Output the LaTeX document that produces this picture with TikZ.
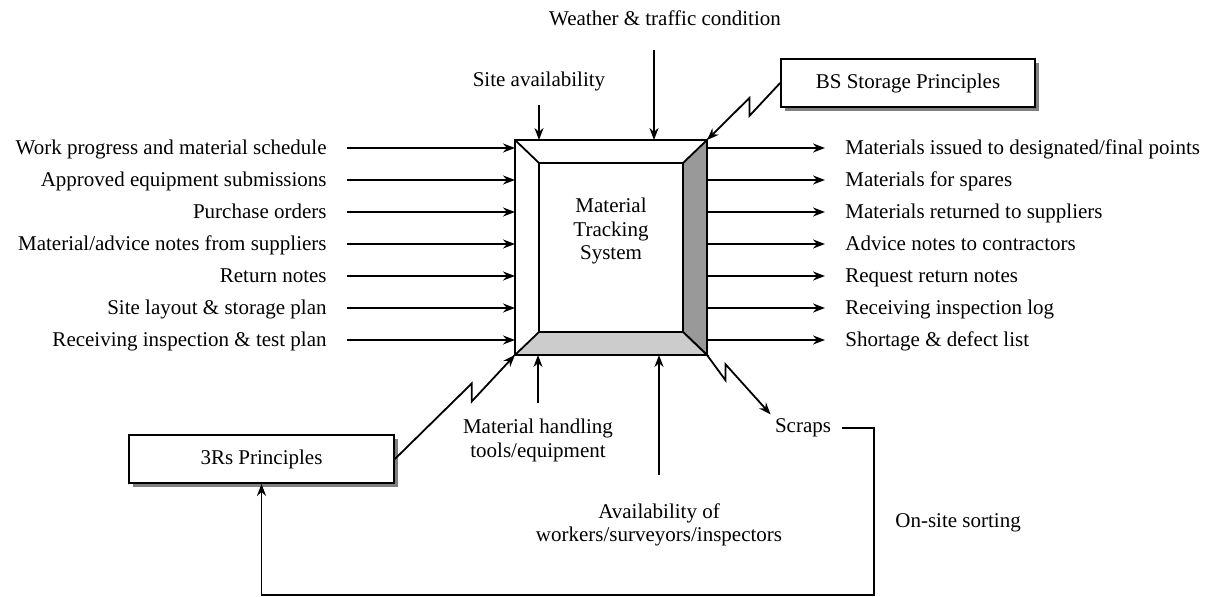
\documentclass[tikz,border=0pt]{standalone}
\usepackage{fontspec}
\setmainfont{Liberation Serif}
\usetikzlibrary{calc,shadows,arrows.meta,positioning}

\tikzset{
  lbl/.style={font=\fontsize{10.5}{11.8}\selectfont, inner sep=2pt},
  row/.style={lbl, text height=7pt, text depth=0pt, inner xsep=10pt},
  arr/.style={-{Stealth[length=6pt,width=4.5pt]}, line width=0.9pt},
  pbox/.style={lbl, draw, line width=0.9pt, fill=white, minimum height=24pt,
    drop shadow={shadow xshift=2pt, shadow yshift=-2pt, fill=black!50, opacity=1}},
  zig/.style 2 args={to path={-- ($(\tikztostart)!#1!(\tikztotarget)+(0,#2)$)
    -- ($(\tikztostart)!#1!(\tikztotarget)-(0,#2)$) -- (\tikztotarget)}}
}

\begin{document}
\begin{tikzpicture}[x=0.5pt,y=-0.5pt]
\useasboundingbox (0,0) rectangle (1219,597);

\node [draw, line width=0.9pt, outer sep=0pt, minimum width=96pt, minimum height=107.5pt] (mts) at (611,247.5) {};
\node [draw, line width=0.9pt, outer sep=0pt, minimum width=72pt, minimum height=84.5pt] (core) at (611,247.5) {};
\filldraw [line width=0.9pt, fill=black!40] (mts.north east) -- (mts.south east) -- (core.south east) -- (core.north east) -- cycle;
\filldraw [line width=0.9pt, fill=black!20] (mts.south west) -- (mts.south east) -- (core.south east) -- (core.south west) -- cycle;
\draw [line width=0.9pt] (mts.north west) -- (core.north west);
\node [lbl, align=center] (title) at (611,231) {Material\\Tracking\\System};

\def\inlist{1/{Work progress and material schedule},2/{Approved equipment submissions},3/{Purchase orders},4/{Material/advice notes from suppliers},5/{Return notes},6/{Site layout \& storage plan},7/{Receiving inspection \& test plan}}
\foreach \i / \txt in \inlist {
  \node [row, anchor=east] (in\i) at (347,{116+32*\i}) {\txt};
  \draw [arr] (in\i.east) -- (mts.west |- in\i.east);
}

\def\outlist{1/{Materials issued to designated/final points},2/{Materials for spares},3/{Materials returned to suppliers},4/{Advice notes to contractors},5/{Request return notes},6/{Receiving inspection log},7/{Shortage \& defect list}}
\foreach \i / \txt in \outlist {
  \node [row, anchor=west] (out\i) at (825,{116+32*\i}) {\txt};
  \draw [arr] (mts.east |- out\i.west) -- (out\i.west);
}

\node [lbl] (site) at (539,81) {Site availability};
\draw [arr, shorten <=5pt] (site.south) -- (site.south |- mts.north);
\node [lbl] (wtc) at (665,18) {Weather \& traffic condition};
\draw [arr, shorten <=10pt] ([xshift=-5.5pt]wtc.south) -- ([xshift=-5.5pt]wtc.south |- mts.north);

\node [pbox, minimum width=127pt] (bs) at (908,83) {BS Storage Principles};
\draw [arr] (bs.west) to[zig={0.42}{9}] (mts.north east);

\node [pbox, minimum width=132.5pt] (rrr) at (261.5,459) {3Rs Principles};
\draw [arr] (rrr.east) to[zig={0.64}{-9}] (mts.south west);

\node [lbl, align=center, anchor=north, inner ysep=8pt] (mh) at (538,403) {Material handling\\tools/equipment};
\draw [arr] (mh.north) -- (mh.north |- mts.south);
\node [lbl, align=center, anchor=north, inner ysep=14pt] (avl) at (659,475) {Availability of\\workers/surveyors/inspectors};
\draw [arr] (avl.north) -- (avl.north |- mts.south);

\node [lbl] (scraps) at (803,428) {Scraps};
\draw [arr] (mts.south east) to[zig={0.29}{8}] (scraps.north west);
\coordinate (turn) at (874,595);
\draw [line width=0.9pt, -{Stealth[length=6pt,width=4.5pt]}, shorten <=3.5pt] (scraps.east) -| (turn) -| (rrr.south);
\node [lbl, anchor=west] (sort) at (891,523) {On-site sorting};

\end{tikzpicture}
\end{document}
